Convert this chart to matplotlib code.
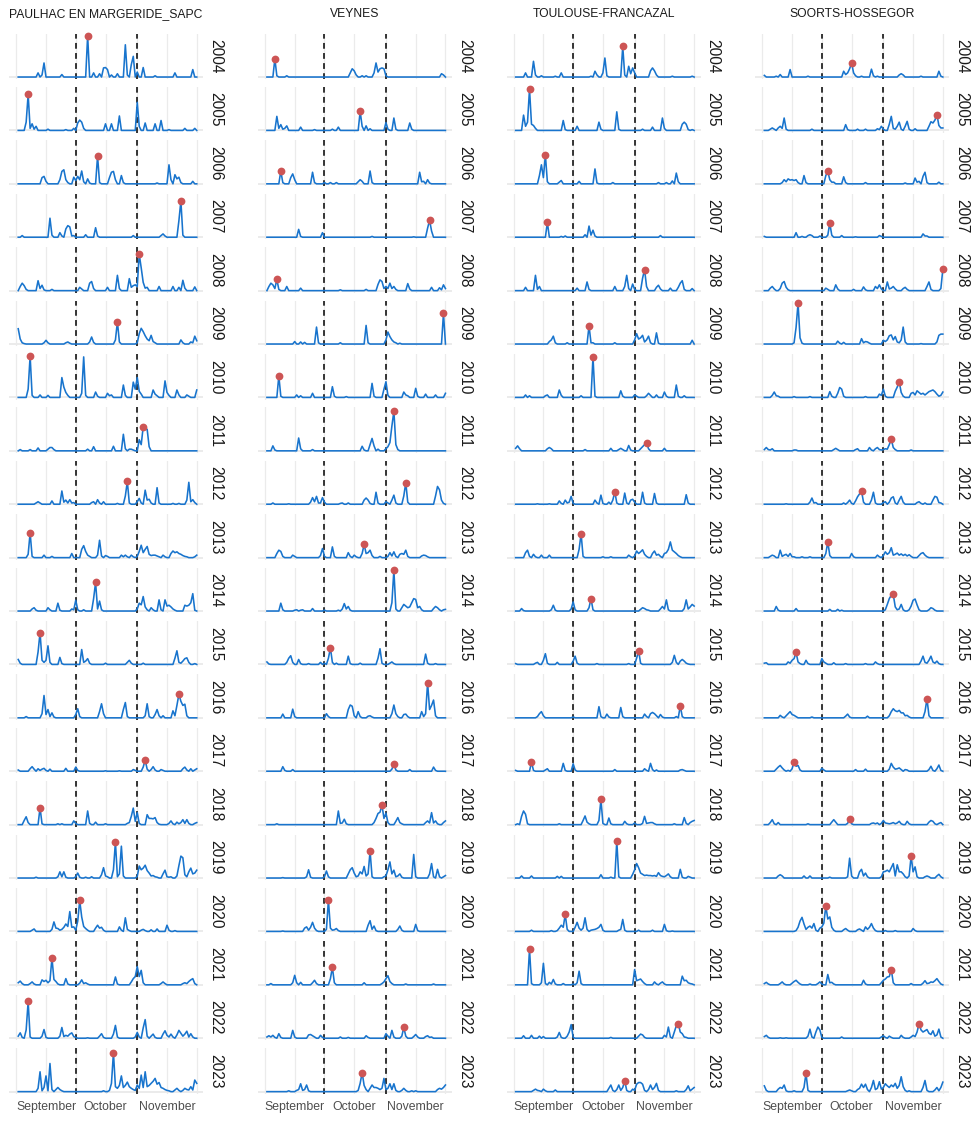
import matplotlib
matplotlib.use("Agg")
import matplotlib.pyplot as plt
from matplotlib import font_manager
import numpy as np

# ---------------- data (relative rainfall height per day, 100 = row scale top) ----
STATIONS = ["PAULHAC EN MARGERIDE_SAPC", "VEYNES", "TOULOUSE-FRANCAZAL", "SOORTS-HOSSEGOR"]
YEARS = list(range(2004, 2024))
MONTH_TICKS = [15, 45, 76]
MONTH_LABELS = ["September", "October", "November"]
OCT1, NOV1 = 30, 61
N_DAYS = 91

paulhac = {
    2004: [(11,10),(13,5),(14,34),(23,6),(36,100),(39,10),(42,8),(44,22),(45,23),(46,18),(48,5),(51,8),(55,78),(56,5),(58,30),(59,50),(61,12),(64,23),(70,3),(80,10),(89,18)],
    2005: [(5,20),(6,87),(7,5),(8,16),(9,3),(10,10),(16,3),(25,2),(29,5),(31,18),(32,25),(33,20),(34,5),(45,16),(48,16),(52,35),(61,68),(62,10),(65,18),(70,16),(73,24),(77,2),(85,5),(90,5)],
    2006: [(13,15),(14,18),(15,6),(22,10),(23,30),(24,34),(25,10),(26,3),(29,16),(30,8),(31,18),(32,10),(33,31),(34,5),(36,12),(37,2),(41,67),(42,3),(47,15),(48,28),(49,30),(50,10),(53,20),(54,3),(71,2),(77,46),(78,10),(80,22),(81,12),(82,16),(83,3),(89,6)],
    2007: [(3,4),(17,46),(18,5),(22,11),(23,3),(25,20),(26,28),(27,25),(28,3),(29,4),(35,6),(40,23),(41,3),(59,4),(73,4),(74,8),(75,3),(82,40),(83,88),(84,5)],
    2008: [(2,10),(3,18),(4,12),(5,3),(11,24),(12,5),(13,13),(14,2),(18,3),(32,8),(33,4),(37,18),(38,22),(39,5),(46,8),(51,37),(52,5),(57,29),(58,8),(59,12),(60,14),(61,10),(62,88),(63,55),(64,20),(65,6),(66,8),(72,10),(79,10),(82,8),(84,25),(85,6),(90,9)],
    2009: [(1,37),(2,12),(3,3),(4,1),(14,3),(15,9),(16,3),(25,3),(26,5),(27,2),(37,5),(38,17),(39,4),(50,10),(51,54),(52,5),(61,3),(62,25),(63,38),(64,30),(65,20),(66,12),(67,8),(68,21),(69,6),(70,3),(83,10),(84,3),(88,5),(89,3),(90,19),(91,8)],
    2010: [(6,20),(7,100),(8,5),(12,6),(16,5),(23,48),(24,25),(25,12),(26,5),(33,10),(34,98),(35,5),(40,13),(41,3),(46,10),(47,4),(48,6),(54,30),(55,5),(59,37),(60,20),(61,48),(62,15),(63,8),(69,18),(70,8),(71,4),(75,40),(76,12),(77,5),(81,18),(82,6),(86,6),(87,3),(91,18)],
    2011: [(2,3),(7,3),(11,7),(16,4),(17,8),(18,8),(19,3),(36,4),(39,10),(49,11),(54,40),(55,5),(57,4),(58,4),(59,2),(62,27),(63,15),(64,58),(65,52),(66,52),(67,10)],
    2012: [(10,3),(11,6),(12,3),(18,8),(23,32),(24,5),(25,10),(26,3),(27,11),(28,3),(29,4),(38,4),(39,6),(41,11),(42,3),(44,6),(51,2),(55,20),(56,55),(57,3),(61,6),(62,14),(63,3),(65,34),(66,10),(67,12),(68,3),(71,40),(72,3),(79,2),(82,2),(86,10),(87,53),(88,6),(89,11),(90,4)],
    2013: [(6,8),(7,60),(8,3),(14,6),(18,3),(28,10),(33,20),(34,29),(35,15),(36,6),(37,3),(41,6),(42,42),(43,4),(45,5),(46,3),(53,6),(54,2),(55,6),(56,2),(58,6),(59,2),(61,3),(62,15),(63,30),(64,12),(65,20),(66,27),(67,8),(68,5),(69,6),(70,6),(71,4),(72,2),(74,6),(75,2),(78,10),(79,16),(80,12),(81,14),(82,10),(83,8),(84,5),(85,3),(86,2),(90,2),(91,6)],
    2014: [(8,5),(9,8),(10,2),(16,8),(17,3),(21,19),(22,2),(28,5),(29,3),(30,26),(31,3),(34,3),(39,30),(40,69),(41,5),(42,24),(43,3),(61,5),(62,19),(63,15),(64,35),(65,10),(66,3),(68,8),(69,3),(72,27),(73,3),(75,27),(76,12),(77,14),(78,10),(79,5),(80,2),(85,14),(86,12),(87,14),(88,20),(89,42),(90,2)],
    2015: [(1,12),(2,3),(11,30),(12,77),(13,10),(14,5),(15,10),(16,45),(17,5),(22,17),(23,2),(33,36),(34,5),(35,8),(36,14),(37,3),(45,3),(56,5),(57,10),(58,3),(64,3),(80,15),(81,33),(82,5),(83,3),(84,8),(85,14),(86,16),(87,5),(90,2)],
    2016: [(5,3),(13,10),(14,54),(15,8),(16,20),(17,3),(18,12),(19,2),(30,8),(31,22),(32,3),(42,15),(43,34),(44,10),(54,20),(55,37),(56,3),(65,5),(66,34),(67,3),(70,8),(71,20),(72,5),(74,5),(79,17),(80,5),(81,30),(82,57),(83,40),(84,30),(85,33),(86,5)],
    2017: [(1,3),(7,6),(8,11),(9,5),(11,6),(12,2),(13,5),(14,7),(15,2),(17,5),(25,7),(30,10),(31,2),(45,1),(52,1),(59,4),(60,2),(64,10),(65,27),(66,5),(68,4),(69,11),(70,3),(73,4),(74,2),(84,6),(85,10),(86,3),(88,6),(90,3),(91,6)],
    2018: [(4,10),(5,19),(6,5),(12,41),(13,2),(21,2),(23,2),(29,9),(30,3),(36,33),(37,3),(40,6),(45,2),(56,3),(57,5),(58,20),(59,40),(60,8),(61,29),(62,3),(66,24),(67,15),(68,15),(69,14),(70,17),(71,5),(72,1),(77,3),(78,9),(79,2),(81,6),(82,2),(83,5),(84,12),(85,3),(86,12),(87,3),(90,3),(91,5)],
    2019: [(10,2),(21,3),(22,15),(23,3),(24,15),(25,2),(30,3),(31,12),(32,2),(35,2),(38,3),(43,8),(44,25),(45,5),(46,3),(49,20),(50,87),(51,3),(52,10),(53,77),(54,5),(61,4),(62,29),(63,20),(64,24),(65,31),(66,18),(67,12),(68,5),(69,6),(70,3),(71,2),(74,10),(75,19),(76,3),(77,2),(78,3),(81,5),(82,30),(83,53),(84,49),(85,8),(86,3),(87,15),(88,24),(89,10),(90,12),(91,19)],
    2020: [(8,3),(9,6),(18,5),(19,23),(20,8),(21,7),(22,3),(23,5),(24,10),(25,18),(26,12),(27,48),(28,10),(29,11),(30,3),(31,25),(32,75),(33,35),(34,12),(35,7),(36,3),(40,8),(41,15),(42,8),(43,10),(44,3),(52,11),(53,3),(55,33),(56,5),(57,2),(63,3),(64,5),(65,2),(68,4),(71,6),(76,15),(77,3),(80,2)],
    2021: [(1,5),(2,9),(3,3),(7,3),(8,7),(9,2),(13,12),(14,8),(15,11),(16,5),(17,10),(18,65),(19,13),(20,8),(21,2),(25,15),(26,2),(32,4),(33,12),(34,3),(35,5),(36,2),(50,19),(51,2),(58,7),(59,15),(60,20),(61,44),(62,20),(63,35),(64,5),(73,3),(74,7),(75,3),(84,3),(85,5),(86,3),(87,8),(88,12),(89,15),(90,3)],
    2022: [(1,5),(2,13),(3,2),(5,20),(6,89),(7,3),(13,5),(14,21),(15,2),(22,5),(23,26),(24,4),(25,7),(26,5),(27,10),(28,13),(29,4),(30,2),(36,1),(42,5),(43,11),(44,2),(49,10),(50,31),(51,3),(60,3),(61,14),(62,3),(64,25),(65,45),(66,5),(68,5),(69,10),(70,2),(74,10),(75,18),(76,7),(77,3),(78,10),(79,3),(81,8),(82,19),(83,12),(84,5),(85,10),(86,17),(87,3),(88,11),(89,3)],
    2023: [(11,8),(12,48),(13,2),(14,10),(15,38),(16,2),(17,68),(18,5),(20,5),(21,10),(22,5),(23,2),(44,2),(47,3),(48,20),(49,94),(50,12),(51,8),(52,15),(53,38),(54,10),(55,15),(56,23),(57,12),(58,8),(59,5),(60,3),(61,16),(62,8),(63,40),(64,10),(65,48),(66,12),(67,15),(68,20),(69,25),(70,32),(71,18),(72,22),(73,10),(74,8),(75,5),(76,3),(77,2),(80,4),(81,8),(82,3),(84,3),(85,8),(86,5),(87,4),(88,12),(89,4),(90,28),(91,20)],
}

veynes = {
    2004: [(5,44),(6,3),(11,3),(43,10),(44,20),(45,15),(46,5),(49,3),(51,3),(55,10),(56,34),(57,12),(58,20),(59,22),(60,20),(61,3),(89,8),(90,5)],
    2005: [(6,34),(7,5),(8,14),(9,3),(10,5),(11,11),(18,8),(25,2),(34,3),(37,8),(48,46),(49,10),(51,11),(53,4),(61,19),(62,3),(65,30),(66,3),(73,18),(74,3)],
    2006: [(8,31),(9,3),(13,15),(14,24),(15,10),(24,28),(25,3),(30,3),(33,3),(36,3),(47,5),(48,10),(49,6),(53,31),(54,3),(78,28),(79,5),(80,6),(82,10),(83,2)],
    2007: [(17,19),(18,2),(29,11),(54,2),(75,1),(82,22),(83,41),(84,15)],
    2008: [(2,10),(3,18),(4,14),(5,5),(6,27),(7,3),(11,10),(18,6),(38,2),(51,3),(57,15),(58,26),(59,22),(60,5),(61,10),(62,5),(63,18),(64,5),(65,10),(66,3),(72,17),(73,4),(84,8),(88,7),(89,2),(90,14),(91,5)],
    2009: [(15,6),(18,5),(20,4),(26,41),(27,3),(38,3),(51,45),(52,3),(61,10),(62,29),(63,18),(64,10),(65,5),(66,3),(68,2),(90,74),(91,0)],
    2010: [(7,52),(8,3),(16,6),(18,4),(24,10),(34,26),(35,3),(41,2),(54,34),(55,3),(60,20),(61,38),(62,5),(70,13),(71,6),(72,4),(76,22),(77,3),(81,8),(86,6),(91,10)],
    2011: [(4,12),(5,2),(17,31),(18,5),(24,3),(49,11),(50,2),(53,15),(54,30),(55,12),(57,4),(61,5),(62,10),(63,20),(64,60),(65,96),(66,15),(67,3)],
    2012: [(4,3),(12,1),(23,5),(24,16),(25,6),(26,19),(27,3),(28,3),(29,16),(30,5),(38,2),(39,3),(42,3),(50,10),(51,15),(52,10),(53,2),(56,29),(57,3),(61,6),(62,3),(64,10),(65,22),(66,3),(70,20),(71,52),(72,5),(86,20),(87,43),(88,35),(89,10),(90,2)],
    2013: [(6,10),(7,18),(8,15),(9,3),(14,6),(15,3),(28,5),(29,22),(30,3),(34,26),(35,3),(42,12),(43,3),(45,6),(46,2),(49,10),(50,32),(51,10),(52,12),(53,18),(54,5),(58,3),(62,3),(63,12),(64,4),(65,14),(66,3),(68,8),(69,10),(70,8),(71,18),(72,3),(79,4),(80,6),(81,5),(82,2)],
    2014: [(8,19),(9,3),(15,2),(16,3),(18,2),(19,3),(24,6),(30,2),(37,2),(39,5),(40,18),(41,5),(42,11),(43,2),(64,20),(65,99),(66,5),(69,8),(70,16),(71,12),(72,8),(73,10),(74,20),(75,30),(76,28),(77,8),(78,11),(79,3),(85,6),(86,11),(87,8),(88,3),(90,3),(91,4)],
    2015: [(1,6),(2,1),(11,5),(12,15),(13,21),(14,5),(17,12),(18,2),(22,2),(28,5),(30,3),(32,15),(33,40),(34,5),(36,3),(42,20),(43,2),(48,3),(57,15),(58,38),(59,3),(63,3),(64,6),(65,2),(81,25),(82,3),(86,2)],
    2016: [(9,9),(14,21),(15,3),(31,10),(32,3),(42,20),(43,31),(44,28),(45,5),(47,15),(48,3),(52,4),(53,5),(54,2),(64,10),(65,31),(66,10),(67,3),(70,8),(71,9),(72,3),(79,15),(80,3),(81,10),(82,85),(83,20),(84,30),(85,43),(86,5)],
    2017: [(9,11),(10,2),(14,4),(64,5),(65,18),(66,3),(73,4),(85,10),(86,2)],
    2018: [(6,2),(37,33),(38,3),(39,4),(40,13),(41,2),(55,5),(56,15),(57,27),(58,30),(59,47),(60,15),(61,28),(62,5),(66,8),(67,17),(68,5),(69,2),(81,5),(82,9),(83,4),(84,29),(85,4),(86,9),(87,2),(90,5),(91,9)],
    2019: [(9,1),(21,3),(22,20),(23,2),(30,3),(31,17),(32,3),(42,10),(43,20),(44,25),(45,12),(46,3),(47,5),(48,15),(49,10),(50,28),(51,5),(52,10),(53,65),(54,3),(60,3),(61,5),(62,20),(63,39),(64,10),(65,19),(66,3),(67,5),(68,10),(69,2),(75,57),(76,3),(83,10),(84,35),(85,3),(87,21),(88,3),(90,3),(91,6)],
    2020: [(9,1),(20,8),(21,11),(22,3),(23,10),(24,22),(25,8),(26,2),(31,5),(32,76),(33,8),(34,3),(35,4),(36,7),(37,2),(52,15),(53,26),(54,5),(55,13),(56,2),(67,5),(68,13),(69,3),(76,17),(77,2)],
    2021: [(3,3),(14,5),(15,23),(16,5),(18,6),(24,5),(25,11),(26,3),(33,15),(34,42),(35,5),(50,5),(59,3),(60,7),(61,15),(62,22),(63,8),(64,3),(71,2),(85,2)],
    2022: [(1,3),(2,6),(3,3),(4,7),(5,2),(7,11),(8,2),(14,19),(15,3),(22,8),(23,9),(24,6),(25,3),(28,7),(29,2),(38,3),(42,2),(51,6),(52,2),(61,11),(62,5),(64,19),(65,3),(69,5),(70,26),(71,5),(75,4),(76,9),(77,3),(81,4),(82,6),(83,2),(84,3)],
    2023: [(12,2),(16,3),(17,5),(18,19),(19,3),(20,5),(21,16),(22,2),(47,3),(48,20),(49,46),(50,15),(51,5),(53,8),(54,16),(55,10),(56,10),(57,8),(58,5),(59,8),(60,32),(61,5),(62,8),(63,19),(64,5),(65,19),(66,3),(69,3),(70,8),(71,3),(74,2),(76,2),(87,5),(88,8),(89,6),(90,10),(91,16)],
}

toulouse = {
    2004: [(6,10),(10,38),(11,5),(14,3),(21,2),(24,10),(39,2),(41,14),(42,5),(45,10),(46,46),(47,3),(55,74),(56,5),(58,26),(59,8),(60,22),(61,10),(69,15),(70,22),(71,15),(72,5),(80,2),(90,2)],
    2005: [(5,37),(6,10),(7,20),(8,100),(9,15),(10,12),(11,5),(25,24),(26,2),(32,10),(43,20),(44,3),(52,45),(53,3),(65,3),(70,8),(75,30),(76,5),(85,15),(86,20),(87,15),(88,2),(90,2)],
    2006: [(13,20),(14,46),(15,15),(16,70),(17,5),(23,4),(24,8),(33,6),(41,36),(42,2),(50,3),(73,3),(77,3),(80,7),(82,26),(83,5)],
    2007: [(17,36),(24,2),(26,3),(36,6),(38,27),(39,5),(40,17),(41,3),(60,2),(74,4)],
    2008: [(6,8),(11,37),(12,3),(13,10),(32,6),(37,21),(38,3),(51,10),(56,10),(57,37),(58,5),(60,16),(61,3),(65,30),(66,51),(67,10),(72,8),(73,13),(74,4),(79,6),(83,8),(84,18),(85,24),(86,3),(90,5)],
    2009: [(18,6),(19,10),(20,19),(21,3),(27,3),(38,44),(39,3),(40,3),(51,3),(61,10),(62,25),(63,12),(64,15),(65,21),(66,5),(67,10),(68,19),(69,3),(72,27),(73,2),(90,9)],
    2010: [(6,6),(8,4),(16,4),(17,6),(23,18),(24,5),(34,4),(40,98),(41,3),(54,16),(55,3),(61,6),(62,3),(67,4),(68,10),(69,5),(72,6),(76,13),(77,3),(82,30),(83,3),(86,4)],
    2011: [(1,6),(2,12),(3,5),(17,5),(18,8),(19,5),(36,3),(49,6),(53,3),(54,6),(55,3),(58,13),(59,2),(64,5),(65,10),(66,15),(67,19),(68,5),(76,6)],
    2012: [(12,1),(18,1),(23,8),(24,2),(26,10),(27,3),(28,5),(29,19),(30,2),(41,10),(42,3),(44,22),(45,2),(48,5),(50,10),(51,30),(52,3),(56,27),(57,3),(59,10),(60,12),(61,5),(65,29),(66,3),(71,26),(72,3),(87,23),(88,3)],
    2013: [(6,12),(7,18),(8,3),(10,8),(11,2),(14,6),(18,6),(33,20),(34,58),(35,3),(45,2),(49,2),(58,6),(59,2),(61,4),(62,16),(63,10),(64,14),(65,19),(66,8),(67,3),(70,10),(71,16),(72,6),(73,8),(74,3),(76,10),(77,12),(78,20),(79,38),(80,18),(81,14),(82,10),(83,5),(84,2)],
    2014: [(4,6),(5,1),(19,3),(20,14),(21,2),(29,5),(30,22),(31,3),(38,8),(39,30),(40,3),(64,4),(65,8),(66,6),(67,3),(68,2),(74,5),(75,11),(76,5),(77,27),(78,3),(86,6),(87,27),(88,5),(89,10),(90,16),(91,12)],
    2015: [(1,2),(11,3),(12,5),(15,10),(16,26),(17,3),(22,5),(30,8),(31,20),(32,3),(42,2),(58,2),(62,15),(63,33),(64,3),(80,5),(81,22),(82,5),(84,8),(85,12),(86,8),(87,3),(88,1)],
    2016: [(12,3),(13,10),(14,15),(15,5),(30,2),(43,27),(44,3),(47,9),(48,2),(54,25),(55,3),(66,9),(67,3),(69,10),(70,13),(71,10),(72,5),(74,8),(75,2),(82,3),(84,29),(85,3)],
    2017: [(1,2),(9,22),(10,2),(16,3),(17,6),(25,19),(26,2),(30,18),(31,3),(51,4),(66,6),(67,2),(69,19),(70,4),(72,3),(84,3),(85,4),(86,2)],
    2018: [(2,2),(4,20),(5,33),(6,25),(7,2),(23,2),(35,10),(36,21),(37,6),(38,2),(43,10),(44,61),(45,3),(48,16),(49,2),(56,8),(57,2),(61,4),(65,3),(66,20),(67,3),(68,4),(69,5),(70,5),(71,2),(81,2),(86,17),(87,3),(89,5),(90,8),(91,10)],
    2019: [(4,5),(9,5),(22,4),(24,4),(44,8),(49,2),(52,90),(53,3),(60,9),(61,20),(62,35),(63,25),(64,12),(65,9),(66,6),(67,7),(68,6),(69,6),(70,5),(71,6),(72,4),(73,13),(74,6),(75,4),(76,3),(77,6),(78,10),(79,3),(84,21),(85,2),(88,4),(89,2)],
    2020: [(9,3),(19,2),(22,2),(23,8),(24,15),(25,10),(26,41),(27,5),(31,10),(32,22),(33,8),(34,3),(35,8),(36,33),(37,5),(39,3),(40,4),(41,5),(42,7),(43,10),(44,17),(45,3),(53,3),(54,5),(55,29),(56,3),(63,3),(70,3),(76,17),(77,2),(80,1)],
    2021: [(8,86),(9,3),(14,5),(15,52),(16,3),(18,6),(19,2),(20,13),(21,2),(25,3),(30,2),(32,5),(33,33),(34,3),(61,37),(62,10),(63,12),(64,14),(65,8),(66,3),(71,7),(72,2),(74,4),(75,7),(76,2),(85,21),(86,10),(87,11),(88,5),(89,3),(90,2)],
    2022: [(5,6),(9,7),(13,5),(15,4),(22,3),(23,14),(24,2),(27,5),(28,15),(29,33),(30,2),(49,2),(63,5),(64,10),(65,8),(66,2),(76,7),(77,3),(78,27),(79,3),(81,15),(82,30),(83,35),(84,15),(85,11),(86,3),(87,2)],
    2023: [(10,3),(11,6),(12,3),(13,2),(15,6),(16,2),(21,4),(48,8),(49,16),(50,3),(52,5),(53,16),(54,3),(55,10),(56,26),(57,3),(60,6),(61,3),(62,18),(63,22),(64,22),(65,18),(66,3),(68,5),(69,16),(70,5),(71,10),(72,20),(73,3),(82,2),(87,5),(88,14),(89,2),(90,6),(91,10)],
}

soorts = {
    2004: [(1,4),(7,2),(9,6),(14,18),(23,2),(41,14),(42,6),(43,10),(44,20),(45,34),(46,10),(47,3),(50,2),(55,19),(56,3),(58,2),(69,5),(70,8),(71,5),(80,2),(89,14),(90,2)],
    2005: [(4,3),(5,6),(6,3),(8,6),(9,10),(10,5),(11,30),(12,3),(25,3),(42,14),(43,2),(48,3),(52,3),(58,4),(59,2),(60,10),(61,3),(64,15),(65,34),(66,5),(67,3),(68,10),(69,20),(70,3),(72,10),(73,22),(74,3),(77,4),(84,10),(85,21),(86,18),(87,25),(88,38),(89,12),(90,6),(91,6)],
    2006: [(10,3),(11,10),(12,5),(13,12),(14,9),(15,10),(16,8),(17,10),(18,3),(21,20),(22,3),(32,20),(33,30),(34,10),(35,4),(36,4),(41,17),(42,3),(52,3),(72,2),(77,14),(78,4),(79,6),(81,18),(82,28),(83,3),(89,4)],
    2007: [(1,2),(17,11),(20,2),(23,4),(24,6),(25,4),(29,3),(33,5),(34,34),(35,5),(40,4),(47,1),(59,4),(60,2),(81,8),(82,3),(83,3)],
    2008: [(4,6),(5,10),(6,4),(9,5),(10,18),(11,22),(12,8),(13,2),(32,6),(33,3),(37,14),(38,4),(46,3),(51,9),(52,2),(57,10),(58,5),(59,14),(60,4),(63,21),(64,4),(65,6),(66,10),(67,4),(71,5),(72,8),(73,3),(83,10),(84,21),(85,3),(90,5),(91,52)],
    2009: [(16,3),(17,40),(18,99),(19,15),(20,2),(38,7),(39,2),(41,4),(50,13),(51,3),(52,6),(53,5),(54,2),(61,9),(62,6),(63,10),(64,20),(65,22),(66,10),(67,18),(68,5),(69,3),(70,10),(71,41),(72,5),(80,1),(88,5),(89,21),(90,24),(91,24)],
    2010: [(5,5),(6,13),(7,4),(8,3),(16,2),(24,2),(34,14),(35,3),(38,10),(39,24),(40,20),(41,3),(52,2),(59,8),(60,5),(61,20),(62,3),(67,15),(68,25),(69,38),(70,12),(71,3),(75,10),(76,12),(77,6),(78,16),(79,12),(80,8),(81,10),(82,6),(83,10),(84,14),(85,16),(86,18),(87,14),(88,8),(89,3),(90,5),(91,13)],
    2011: [(1,3),(2,8),(3,3),(4,2),(5,5),(16,2),(17,2),(36,3),(37,6),(38,3),(47,3),(48,5),(54,8),(55,2),(57,5),(58,8),(59,3),(60,2),(61,3),(62,5),(63,4),(64,15),(65,28),(66,8),(67,3),(75,2)],
    2012: [(12,1),(24,5),(25,15),(26,3),(27,4),(41,3),(43,4),(44,10),(45,2),(47,8),(48,18),(49,25),(50,32),(51,5),(55,10),(56,29),(57,3),(61,4),(62,6),(64,5),(65,15),(66,18),(67,3),(69,10),(70,19),(71,5),(78,4),(79,6),(80,2),(82,3),(86,10),(87,19),(88,17),(89,4),(90,3)],
    2013: [(4,3),(5,6),(6,4),(9,18),(10,3),(11,6),(12,8),(13,3),(14,10),(15,2),(16,2),(20,2),(24,2),(32,10),(33,38),(34,5),(45,10),(46,2),(58,6),(59,2),(61,5),(62,14),(63,8),(64,12),(65,24),(66,6),(67,8),(68,11),(69,6),(70,9),(71,5),(72,8),(73,4),(74,7),(75,3),(79,5),(80,10),(81,12),(82,6),(83,2)],
    2014: [(7,11),(8,2),(17,6),(34,4),(38,4),(40,2),(62,3),(63,16),(64,30),(65,38),(66,40),(67,10),(68,3),(69,5),(70,16),(71,3),(74,3),(75,12),(76,26),(77,29),(78,15),(79,3),(84,3),(85,8),(86,6),(87,2)],
    2015: [(1,3),(2,4),(13,6),(14,3),(15,10),(16,14),(17,29),(18,6),(19,2),(22,10),(23,2),(30,14),(31,6),(32,3),(36,4),(42,2),(52,2),(57,6),(58,2),(80,8),(81,20),(82,5),(83,3),(84,10),(85,20),(86,6),(87,3),(88,8),(89,2)],
    2016: [(9,6),(10,2),(12,5),(13,10),(14,15),(15,8),(16,6),(17,3),(25,2),(42,4),(43,9),(44,2),(53,4),(64,5),(65,15),(66,22),(67,17),(68,15),(69,18),(70,12),(71,12),(72,5),(73,6),(74,2),(82,15),(83,46),(84,5)],
    2017: [(7,5),(8,10),(9,14),(10,8),(11,3),(13,2),(15,6),(16,23),(17,12),(18,14),(19,3),(30,7),(31,3),(47,4),(52,5),(64,5),(65,19),(66,10),(67,5),(68,6),(69,8),(70,4),(72,4),(73,3),(84,4),(85,12),(86,2),(88,6),(89,15),(90,2)],
    2018: [(4,5),(5,12),(6,2),(8,5),(23,2),(35,6),(36,12),(37,6),(43,3),(44,14),(45,2),(55,3),(56,4),(57,2),(58,4),(60,3),(61,10),(62,4),(63,3),(64,2),(65,3),(66,5),(67,2),(68,4),(69,8),(70,2),(73,8),(74,2),(84,6),(85,10),(86,8),(87,2),(89,3),(90,5)],
    2019: [(8,5),(9,8),(10,5),(21,5),(24,5),(34,2),(43,3),(44,48),(45,5),(49,15),(50,21),(51,5),(52,12),(53,3),(60,3),(61,15),(62,16),(63,19),(64,15),(65,25),(66,35),(67,5),(68,32),(69,15),(70,15),(71,10),(72,3),(74,5),(75,53),(76,15),(77,27),(78,3),(82,3),(83,5),(84,3),(88,5),(89,9),(90,3)],
    2020: [(17,2),(18,10),(19,25),(20,34),(21,18),(22,5),(23,10),(24,13),(25,8),(26,19),(27,3),(29,8),(30,11),(31,20),(32,61),(33,30),(34,35),(35,10),(36,3),(41,4),(42,7),(43,3),(48,4),(49,6),(50,3),(52,11),(53,5),(54,10),(55,19),(56,8),(57,2),(62,2),(67,2),(76,7),(77,2)],
    2021: [(1,3),(2,6),(3,2),(9,3),(10,7),(11,2),(15,4),(16,8),(17,11),(18,6),(19,2),(24,2),(28,3),(29,7),(30,2),(33,25),(34,5),(35,6),(36,2),(51,11),(52,2),(60,5),(61,11),(62,14),(63,19),(64,20),(65,37),(66,5),(75,3),(81,4),(82,10),(83,3),(84,4),(85,7),(86,6),(87,10),(88,15),(89,8),(90,2)],
    2022: [(1,4),(2,7),(3,2),(9,1),(12,1),(23,5),(24,22),(25,3),(27,15),(28,27),(29,20),(30,2),(40,3),(60,3),(61,6),(62,2),(64,5),(65,2),(70,7),(71,2),(75,3),(76,7),(77,4),(78,15),(79,35),(80,20),(81,15),(82,18),(83,21),(84,12),(85,9),(86,18),(87,5),(88,8),(89,22),(90,3)],
    2023: [(1,14),(2,3),(8,6),(9,10),(10,8),(11,16),(12,2),(16,2),(21,10),(22,44),(23,3),(43,2),(44,4),(45,2),(48,5),(49,8),(50,18),(51,10),(52,18),(53,5),(55,10),(56,27),(57,5),(58,8),(59,24),(60,6),(61,10),(62,19),(63,14),(64,10),(65,16),(66,12),(67,20),(68,8),(69,15),(70,36),(71,12),(72,3),(74,2),(81,10),(82,27),(83,3),(87,4),(88,10),(89,2),(90,10),(91,23)],
}

STATION_DATA = [paulhac, veynes, toulouse, soorts]

# ---------------- styling ----------------
names = {f.name for f in font_manager.fontManager.ttflist}
if "Liberation Sans Narrow" in names:
    NARROW = "Liberation Sans Narrow"
    TITLE_FS, TICK_FS = 10.6, 9.8
else:
    NARROW = "Liberation Sans"
    TITLE_FS, TICK_FS = 8.7, 8.8
REG = "Liberation Sans" if "Liberation Sans" in names else "DejaVu Sans"

LINE_C = "#1874CD"
DOT_C = "#CD5555"
GRID_C = "#EBEBEB"
TEXT_C = "#1A1A1A"
AXIS_C = "#4D4D4D"

W, H = 973, 1122
fig = plt.figure(figsize=(W / 100, H / 100), dpi=100)

left_px, panel_w, col_step = 9.1, 194.0, 248.7
top_px, panel_h, row_step = 33.6, 45.5, 53.4
ncol, nrow = 4, len(YEARS)
right_px = left_px + (ncol - 1) * col_step + panel_w
bottom_px = top_px + (nrow - 1) * row_step + panel_h

gs = fig.add_gridspec(
    nrow, ncol,
    left=left_px / W, right=right_px / W,
    top=1 - top_px / H, bottom=1 - bottom_px / H,
    wspace=(col_step - panel_w) / panel_w,
    hspace=(row_step - panel_h) / panel_h,
)

x = np.arange(1, N_DAYS + 1)
GRID_DAYS = [0, 15, 30, 45, 61, 76, 91]


def daily(pairs):
    y = np.zeros(N_DAYS)
    for d, v in pairs:
        y[d - 1] = v
    return y


for c, (station, data) in enumerate(zip(STATIONS, STATION_DATA)):
    for r, yr in enumerate(YEARS):
        ax = fig.add_subplot(gs[r, c])
        ax.set_xlim(-3.6, 94.2)
        ax.set_ylim(-5, 105)
        for s in ax.spines.values():
            s.set_visible(False)
        ax.set_yticks([])
        for gx in GRID_DAYS:
            ax.axvline(gx, color=GRID_C, lw=0.9, zorder=0)
        ax.axhline(0, color=GRID_C, lw=1.4, zorder=0)
        for vx in (OCT1, NOV1):
            ax.axvline(vx, color="black", lw=1.1, ls=(0, (3.8, 2.8)), zorder=2)
        y = daily(data[yr])
        ax.plot(x, y, color=LINE_C, lw=1.15, zorder=3, solid_joinstyle="round")
        i = int(np.argmax(y))
        ax.plot([x[i]], [y[i]], "o", color=DOT_C, ms=5.6, mec="none", zorder=4, clip_on=False)

        if r == nrow - 1:
            ax.set_xticks(MONTH_TICKS)
            ax.set_xticklabels(MONTH_LABELS, color=AXIS_C, fontsize=TICK_FS, family=NARROW)
            ax.tick_params(axis="x", length=0, pad=5.0)
        else:
            ax.set_xticks([])

        if r == 0:
            ax.text(0.5, 1 + 19.6 / panel_h, station, transform=ax.transAxes,
                    ha="center", va="center", fontsize=TITLE_FS, family=NARROW, color=TEXT_C)
        ax.text(1 + 12.5 / panel_w, 0.5, str(yr), transform=ax.transAxes, rotation=270,
                ha="center", va="center", fontsize=11.2, family=REG, color=TEXT_C)

fig.savefig("out.png", dpi=100)
